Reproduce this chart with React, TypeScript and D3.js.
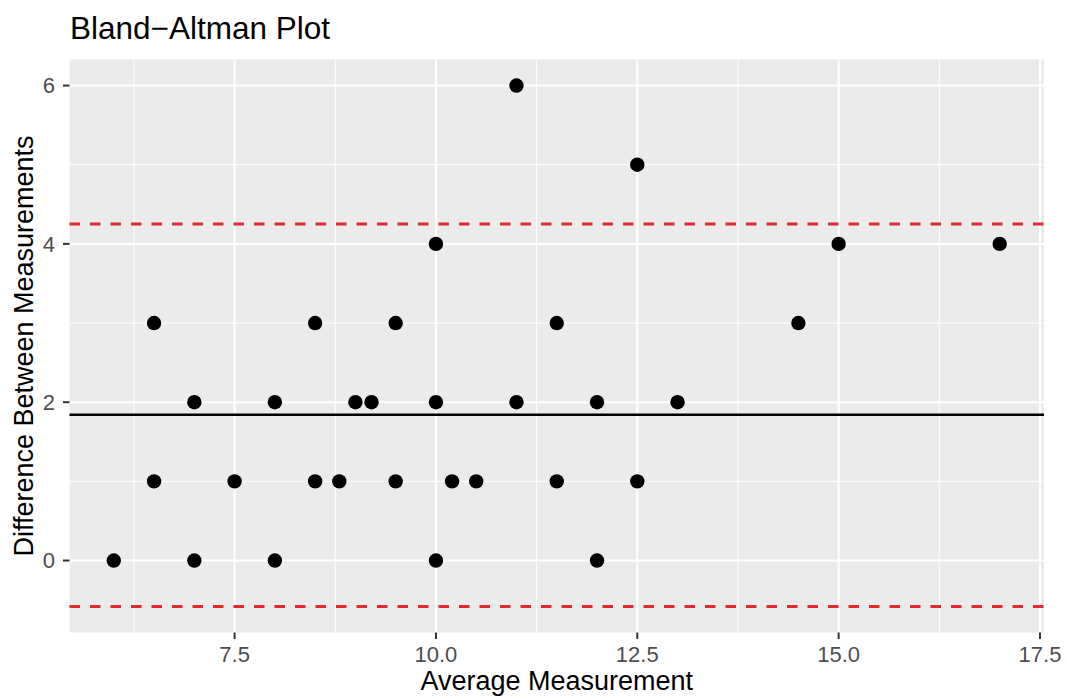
import React from 'react';
import * as d3 from 'd3';

// average of the two measurements (x) and their difference (y)
const avgValues = [6, 6.5, 6.5, 7, 7, 7.5, 8, 8, 8.5, 8.5, 8.8, 9, 9.2, 9.5, 9.5, 10, 10, 10, 10.2, 10.5, 11, 11, 11.5, 11.5, 12, 12, 12.5, 12.5, 13, 14.5, 15, 17];
const diffValues = [0, 3, 1, 2, 0, 1, 2, 0, 3, 1, 1, 2, 2, 3, 1, 4, 2, 0, 1, 1, 6, 2, 3, 1, 2, 0, 5, 1, 2, 3, 4, 4];

// mean difference and limits of agreement
const meanDiff = 1.84;
const upperLimit = 4.25;
const lowerLimit = -0.58;

const xTicks = [7.5, 10, 12.5, 15, 17.5];
const xMinor = [6.25, 8.75, 11.25, 13.75, 16.25];
const yTicks = [0, 2, 4, 6];
const yMinor = [1, 3, 5];

const W = 1067;
const H = 697;
const panel = { left: 69.5, right: 1044, top: 59.5, bottom: 632.5 };
const FONT = '"Liberation Sans", Arial, Helvetica, sans-serif';

const expand = (lo: number, hi: number) => {
  const pad = (hi - lo) * 0.05;
  return [lo - pad, hi + pad];
};

const App = () => {
  const points = avgValues.map((a, i) => ({ avg: a, diff: diffValues[i] }));

  const xScale = d3.scaleLinear()
    .domain(expand(d3.min(avgValues)!, d3.max(avgValues)!))
    .range([panel.left, panel.right]);

  const yLo = Math.min(d3.min(diffValues)!, lowerLimit);
  const yHi = Math.max(d3.max(diffValues)!, upperLimit);
  const yScale = d3.scaleLinear()
    .domain(expand(yLo, yHi))
    .range([panel.bottom, panel.top]);

  const fmtX = d3.format('.1f');

  return (
    <div style={{ position: 'absolute', left: 0, top: 0 }}>
      <svg width={W} height={H} style={{ display: 'block', background: '#fff' }} fontFamily={FONT}>
        {/* title */}
        <text x={70} y={39} fontSize={31.5} fill="#000">Bland−Altman Plot</text>

        {/* panel background */}
        <rect x={panel.left} y={panel.top} width={panel.right - panel.left} height={panel.bottom - panel.top} fill="#EBEBEB" />

        {/* minor grid */}
        {xMinor.map(t => (
          <line key={'xm' + t} x1={xScale(t)} x2={xScale(t)} y1={panel.top} y2={panel.bottom} stroke="#fff" strokeWidth={1} />
        ))}
        {yMinor.map(t => (
          <line key={'ym' + t} x1={panel.left} x2={panel.right} y1={yScale(t)} y2={yScale(t)} stroke="#fff" strokeWidth={1} />
        ))}
        {/* major grid */}
        {xTicks.map(t => (
          <line key={'xg' + t} x1={xScale(t)} x2={xScale(t)} y1={panel.top} y2={panel.bottom} stroke="#fff" strokeWidth={2} />
        ))}
        {yTicks.map(t => (
          <line key={'yg' + t} x1={panel.left} x2={panel.right} y1={yScale(t)} y2={yScale(t)} stroke="#fff" strokeWidth={2} />
        ))}

        {/* points */}
        {points.map((d, i) => (
          <circle key={i} cx={xScale(d.avg)} cy={yScale(d.diff)} r={7.2} fill="#000" />
        ))}

        {/* mean and limits of agreement */}
        <line x1={panel.left} x2={panel.right} y1={yScale(meanDiff)} y2={yScale(meanDiff)} stroke="#000" strokeWidth={2.5} />
        {[upperLimit, lowerLimit].map(v => (
          <line key={'loa' + v} x1={panel.left} x2={panel.right} y1={yScale(v)} y2={yScale(v)}
            stroke="#E02A2E" strokeWidth={3} strokeDasharray="10.5,10" />
        ))}

        {/* x axis ticks */}
        {xTicks.map(t => (
          <g key={'xt' + t}>
            <line x1={xScale(t)} x2={xScale(t)} y1={panel.bottom} y2={panel.bottom + 6.5} stroke="#333" strokeWidth={2} />
            <text x={xScale(t)} y={662} textAnchor="middle" fontSize={22} fill="#4D4D4D">{fmtX(t)}</text>
          </g>
        ))}
        {/* y axis ticks */}
        {yTicks.map(t => (
          <g key={'yt' + t}>
            <line x1={panel.left - 6.5} x2={panel.left} y1={yScale(t)} y2={yScale(t)} stroke="#333" strokeWidth={2} />
            <text x={55} y={yScale(t)} dy="0.36em" textAnchor="end" fontSize={22} fill="#4D4D4D">{t}</text>
          </g>
        ))}

        {/* axis titles */}
        <text x={(panel.left + panel.right) / 2} y={690} textAnchor="middle" fontSize={27} fill="#000">Average Measurement</text>
        <text transform={`translate(33, ${(panel.top + panel.bottom) / 2}) rotate(-90)`} textAnchor="middle" fontSize={27} fill="#000">Difference Between Measurements</text>
      </svg>
    </div>
  );
};

export default App;
